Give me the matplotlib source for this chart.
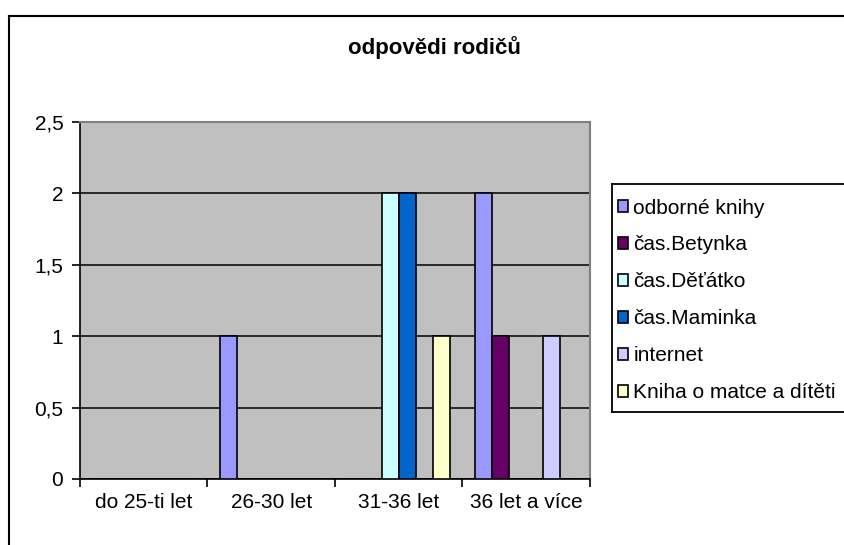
import numpy as np
import matplotlib
matplotlib.use("Agg")
import matplotlib.pyplot as plt
from matplotlib.lines import Line2D

plt.rcParams['font.family'] = ['Liberation Sans', 'DejaVu Sans']

categories = ["do 25-ti let", "26-30 let", "31-36 let", "36 let a více"]
series_names = ["odborné knihy", "čas.Betynka", "čas.Děťátko", "čas.Maminka",
                "internet", "Kniha o matce a dítěti"]
odborne_knihy = [0, 1, 0, 2]
cas_betynka = [0, 0, 0, 1]
cas_detatko = [0, 0, 2, 0]
cas_maminka = [0, 0, 2, 0]
internet = [0, 0, 0, 1]
kniha_o_matce = [0, 0, 1, 0]
series_values = [odborne_knihy, cas_betynka, cas_detatko, cas_maminka, internet, kniha_o_matce]
colors = ["#9999FF", "#660066", "#CCFFFF", "#0066CC", "#CCCCFF", "#FFFFCC"]
y_ticks = [0, 0.5, 1, 1.5, 2, 2.5]
y_tick_labels = ["0", "0,5", "1", "1,5", "2", "2,5"]
title = "odpovědi rodičů"

FS = 15
W, H = 845, 545
fig = plt.figure(figsize=(W / 100, H / 100), dpi=100)
fig.patch.set_facecolor("white")

# plot area in pixels
L, R, T, B = 80, 590, 122, 479
ax = fig.add_axes([L / W, 1 - B / H, (R - L) / W, (B - T) / H])
ax.set_facecolor("#C0C0C0")

n = len(series_names)
w = 1 / (n + 1.5)
x = np.arange(len(categories))
for j, (name, vals, c) in enumerate(zip(series_names, series_values, colors)):
    v = np.array(vals, dtype=float)
    ax.bar(x + (j - (n - 1) / 2) * w, v, width=w, color=c, edgecolor="black",
           linewidth=1.2, label=name, zorder=3)

ax.set_xlim(-0.5, len(categories) - 0.5)
ax.set_ylim(0, 2.5)
ax.set_yticks(y_ticks)
ax.set_yticklabels(y_tick_labels, fontsize=FS)
ax.set_xticks(x)
ax.set_xticklabels(categories, fontsize=FS)
ax.tick_params(axis='x', length=0, pad=10)
ax.set_xticks(np.arange(len(categories) + 1) - 0.5, minor=True)
ax.tick_params(axis='x', which='minor', length=6, width=1.2, direction='out')
ax.tick_params(axis='y', length=6, width=1.2, direction='out', pad=6)
ax.yaxis.grid(True, color="black", linewidth=1.1, zorder=1)
ax.set_axisbelow(True)
for s in ["top", "right"]:
    ax.spines[s].set_color("#808080")
    ax.spines[s].set_linewidth(1.5)
for s in ["left", "bottom"]:
    ax.spines[s].set_color("black")
    ax.spines[s].set_linewidth(1.2)

# title
fig.text(434 / W, 1 - 48 / H, title, ha="center", va="center", fontsize=16,
         fontweight="bold")

# outer chart border (extends beyond right and bottom)
fig.add_artist(Line2D([9 / W, 9 / W], [1 - 16 / H, 0], color="black", lw=1.5,
                      transform=fig.transFigure))
fig.add_artist(Line2D([9 / W, 1], [1 - 16 / H, 1 - 16 / H], color="black", lw=1.5,
                      transform=fig.transFigure))

# legend
LL, LT, LB = 612, 184, 412
handles = [plt.Rectangle((0, 0), 1, 1, facecolor=c, edgecolor="black", linewidth=1.2)
           for c in colors]
leg = fig.legend(handles, series_names, loc="upper left",
                 bbox_to_anchor=((LL - 9) / W, 1 - LT / H), frameon=False, fontsize=FS,
                 handlelength=0.5, handleheight=0.5, handletextpad=0.25,
                 labelspacing=0.86, borderpad=0.7, borderaxespad=0)
for yy in (LT, LB):
    fig.add_artist(Line2D([LL / W, 1], [1 - yy / H, 1 - yy / H], color="black", lw=1.3,
                          transform=fig.transFigure))
fig.add_artist(Line2D([LL / W, LL / W], [1 - LT / H, 1 - LB / H], color="black", lw=1.3,
                      transform=fig.transFigure))

fig.savefig("out.png", dpi=100)
